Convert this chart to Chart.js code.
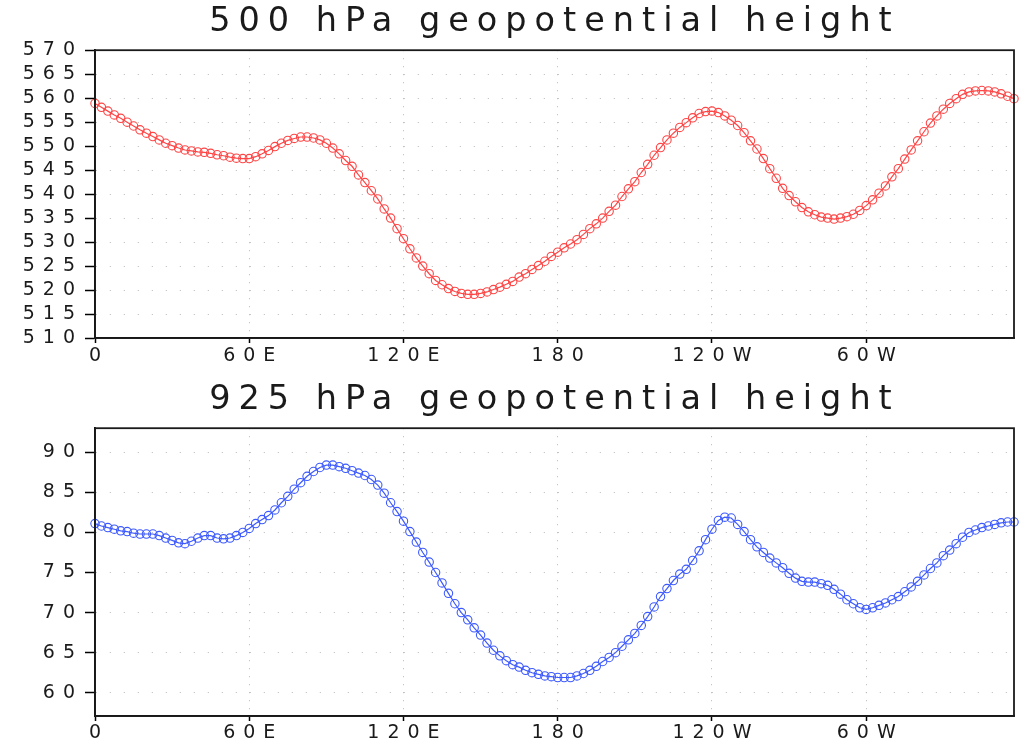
<!DOCTYPE html>
<html lang="en">
    <head>
        <meta charset="UTF-8" />
        <title>Geopotential height</title>
        <script src="https://cdn.jsdelivr.net/npm/chart.js"></script>
        <style>
            body {
                margin: 0;
                background: #ffffff;
            }
            canvas {
                display: block;
            }
        </style>
    </head>
    <body>
        <canvas id="top" width="1025" height="372"></canvas>
        <canvas id="bottom" width="1025" height="372"></canvas>
        <script>
            // longitudes, 2.5 degree grid
            const lons = Array.from({ length: 144 }, (_, i) => i * 2.5);
            const lonTicks = [0, 60, 120, 180, 240, 300];
            const lonLabels = ["0", "60E", "120E", "180", "120W", "60W"];

            // 500 hPa geopotential height (dam)
            const z500 = [
                558.9, 558.1, 557.3, 556.5, 555.8, 555.0, 554.2, 553.4, 552.7, 552.0,
                551.3, 550.6, 550.1, 549.6, 549.2, 549.0, 548.8, 548.7, 548.5, 548.2,
                548.0, 547.7, 547.5, 547.4, 547.4, 547.8, 548.4, 549.1, 549.9, 550.6,
                551.2, 551.6, 551.9, 551.9, 551.7, 551.3, 550.6, 549.6, 548.4, 547.0,
                545.8, 544.0, 542.4, 540.7, 539.0, 536.9, 535.0, 532.8, 530.7, 528.6,
                526.7, 525.0, 523.4, 522.0, 521.1, 520.3, 519.7, 519.3, 519.1, 519.1,
                519.3, 519.6, 520.1, 520.6, 521.2, 521.8, 522.7, 523.4, 524.3, 525.1,
                526.0, 527.0, 527.9, 528.8, 529.6, 530.5, 531.6, 532.8, 533.8, 535.0,
                536.4, 537.7, 539.5, 541.1, 542.6, 544.5, 546.2, 548.1, 549.7, 551.3,
                552.7, 553.9, 554.9, 555.9, 556.8, 557.2, 557.3, 557.0, 556.3, 555.4,
                554.3, 552.8, 551.1, 549.4, 547.4, 545.3, 543.3, 541.2, 539.7, 538.4,
                537.2, 536.3, 535.7, 535.2, 535.0, 534.8, 535.0, 535.3, 535.8, 536.6,
                537.6, 538.8, 540.2, 541.7, 543.6, 545.3, 547.3, 549.2, 551.1, 553.0,
                554.8, 556.3, 557.7, 558.9, 559.9, 560.8, 561.3, 561.5, 561.6, 561.5,
                561.3, 560.9, 560.4, 559.9,
            ];

            // 925 hPa geopotential height (dam)
            const z925 = [
                81.1, 80.8, 80.6, 80.4, 80.2, 80.1, 79.9, 79.8, 79.8, 79.8,
                79.6, 79.3, 79.0, 78.7, 78.6, 78.9, 79.3, 79.6, 79.6, 79.3,
                79.2, 79.3, 79.6, 80.0, 80.5, 81.1, 81.6, 82.1, 82.8, 83.7,
                84.5, 85.4, 86.2, 87.0, 87.6, 88.1, 88.4, 88.4, 88.2, 88.0,
                87.7, 87.4, 87.1, 86.6, 85.9, 84.9, 83.7, 82.6, 81.4, 80.1,
                78.8, 77.5, 76.3, 75.0, 73.7, 72.4, 71.1, 70.0, 69.1, 68.1,
                67.2, 66.2, 65.3, 64.6, 64.0, 63.5, 63.2, 62.8, 62.5, 62.3,
                62.1, 62.0, 61.9, 61.9, 61.9, 62.1, 62.4, 62.8, 63.3, 63.9,
                64.4, 65.0, 65.8, 66.6, 67.4, 68.4, 69.5, 70.7, 72.0, 73.0,
                74.0, 74.8, 75.4, 76.5, 77.7, 79.1, 80.4, 81.5, 81.9, 81.8,
                81.0, 80.1, 79.1, 78.2, 77.5, 76.8, 76.2, 75.6, 74.9, 74.3,
                73.9, 73.8, 73.8, 73.6, 73.4, 72.9, 72.3, 71.6, 71.1, 70.6,
                70.4, 70.6, 70.9, 71.2, 71.6, 72.0, 72.6, 73.2, 73.9, 74.7,
                75.5, 76.2, 77.1, 77.8, 78.6, 79.4, 80.0, 80.3, 80.6, 80.8,
                81.0, 81.2, 81.3, 81.3,
            ];
            const ticks500 = [510, 515, 520, 525, 530, 535, 540, 545, 550, 555, 560, 565, 570];
            const ticks925 = [60, 65, 70, 75, 80, 85, 90];

            const SPACING = 8;
            const FONT = "'DejaVu Sans', sans-serif";

            // wide letter spacing like the GrADS font, plus a frame round the plot
            const framePlugin = {
                id: "frame",
                beforeDraw(chart) {
                    chart.ctx.letterSpacing = SPACING + "px";
                },
                afterDraw(chart) {
                    const { ctx, chartArea: a } = chart;
                    ctx.save();
                    ctx.strokeStyle = "#1a1a1a";
                    ctx.lineWidth = 1.8;
                    ctx.strokeRect(a.left, a.top, a.right - a.left, a.bottom - a.top);
                    ctx.restore();
                },
            };

            function makeChart(id, title, values, color, yMin, yMax, yTicks, titlePad, xHeight, xPad) {
                const ctx = document.getElementById(id).getContext("2d");
                return new Chart(ctx, {
                    type: "line",
                    data: {
                        datasets: [
                            {
                                data: lons.map((x, i) => ({ x: x, y: values[i] })),
                                borderColor: color,
                                borderWidth: 1.2,
                                pointStyle: "circle",
                                pointRadius: 4.2,
                                pointBorderWidth: 1.1,
                                pointBorderColor: color,
                                pointBackgroundColor: "rgba(0,0,0,0)",
                                tension: 0,
                                clip: 5,
                            },
                        ],
                    },
                    options: {
                        responsive: false,
                        animation: false,
                        devicePixelRatio: 1,
                        layout: { padding: { left: 0, right: 11, top: 0, bottom: 0 } },
                        plugins: {
                            legend: { display: false },
                            tooltip: { enabled: false },
                            title: {
                                display: true,
                                text: title,
                                fullSize: false,
                                color: "#1a1a1a",
                                font: { family: FONT, size: 33.5, weight: "normal", lineHeight: 1.2 },
                                padding: titlePad,
                            },
                        },
                        scales: {
                            x: {
                                type: "linear",
                                min: 0,
                                max: 357.5,
                                afterBuildTicks: (scale) => {
                                    scale.ticks = lonTicks.map((v) => ({ value: v }));
                                },
                                afterFit: (scale) => {
                                    scale.height = xHeight;
                                },
                                ticks: {
                                    callback: (v, i) => lonLabels[i],
                                    autoSkip: false,
                                    color: "#1a1a1a",
                                    font: { family: FONT, size: 19, lineHeight: 1.2 },
                                    padding: xPad,
                                    labelOffset: SPACING / 2,
                                    maxRotation: 0,
                                },
                                grid: {
                                    color: "#b8b8b8",
                                    lineWidth: 1,
                                    tickLength: 5,
                                    tickColor: "#000",
                                    tickWidth: 1.5,
                                },
                                border: { color: "#000", width: 1.8, dash: [1, 7] },
                            },
                            y: {
                                min: yMin,
                                max: yMax,
                                afterBuildTicks: (scale) => {
                                    scale.ticks = yTicks.map((v) => ({ value: v }));
                                },
                                afterFit: (scale) => {
                                    scale.width = 95;
                                },
                                ticks: {
                                    autoSkip: false,
                                    color: "#1a1a1a",
                                    font: { family: FONT, size: 19 },
                                    padding: 2,
                                },
                                grid: {
                                    color: "#b8b8b8",
                                    lineWidth: 1,
                                    tickLength: 10,
                                    tickColor: "#000",
                                    tickWidth: 1.5,
                                },
                                border: { color: "#000", width: 1.8, dash: [1, 13] },
                            },
                        },
                    },
                    plugins: [framePlugin],
                });
            }

            makeChart("top", "500 hPa geopotential height", z500, "#ff4545", 510, 570, ticks500,
                { top: 2, bottom: 8 }, 34, 2);
            makeChart("bottom", "925 hPa geopotential height", z925, "#3d5aff", 57.1, 93.0, ticks925,
                { top: 8, bottom: 8 }, 28, 1);
        </script>
    </body>
</html>
